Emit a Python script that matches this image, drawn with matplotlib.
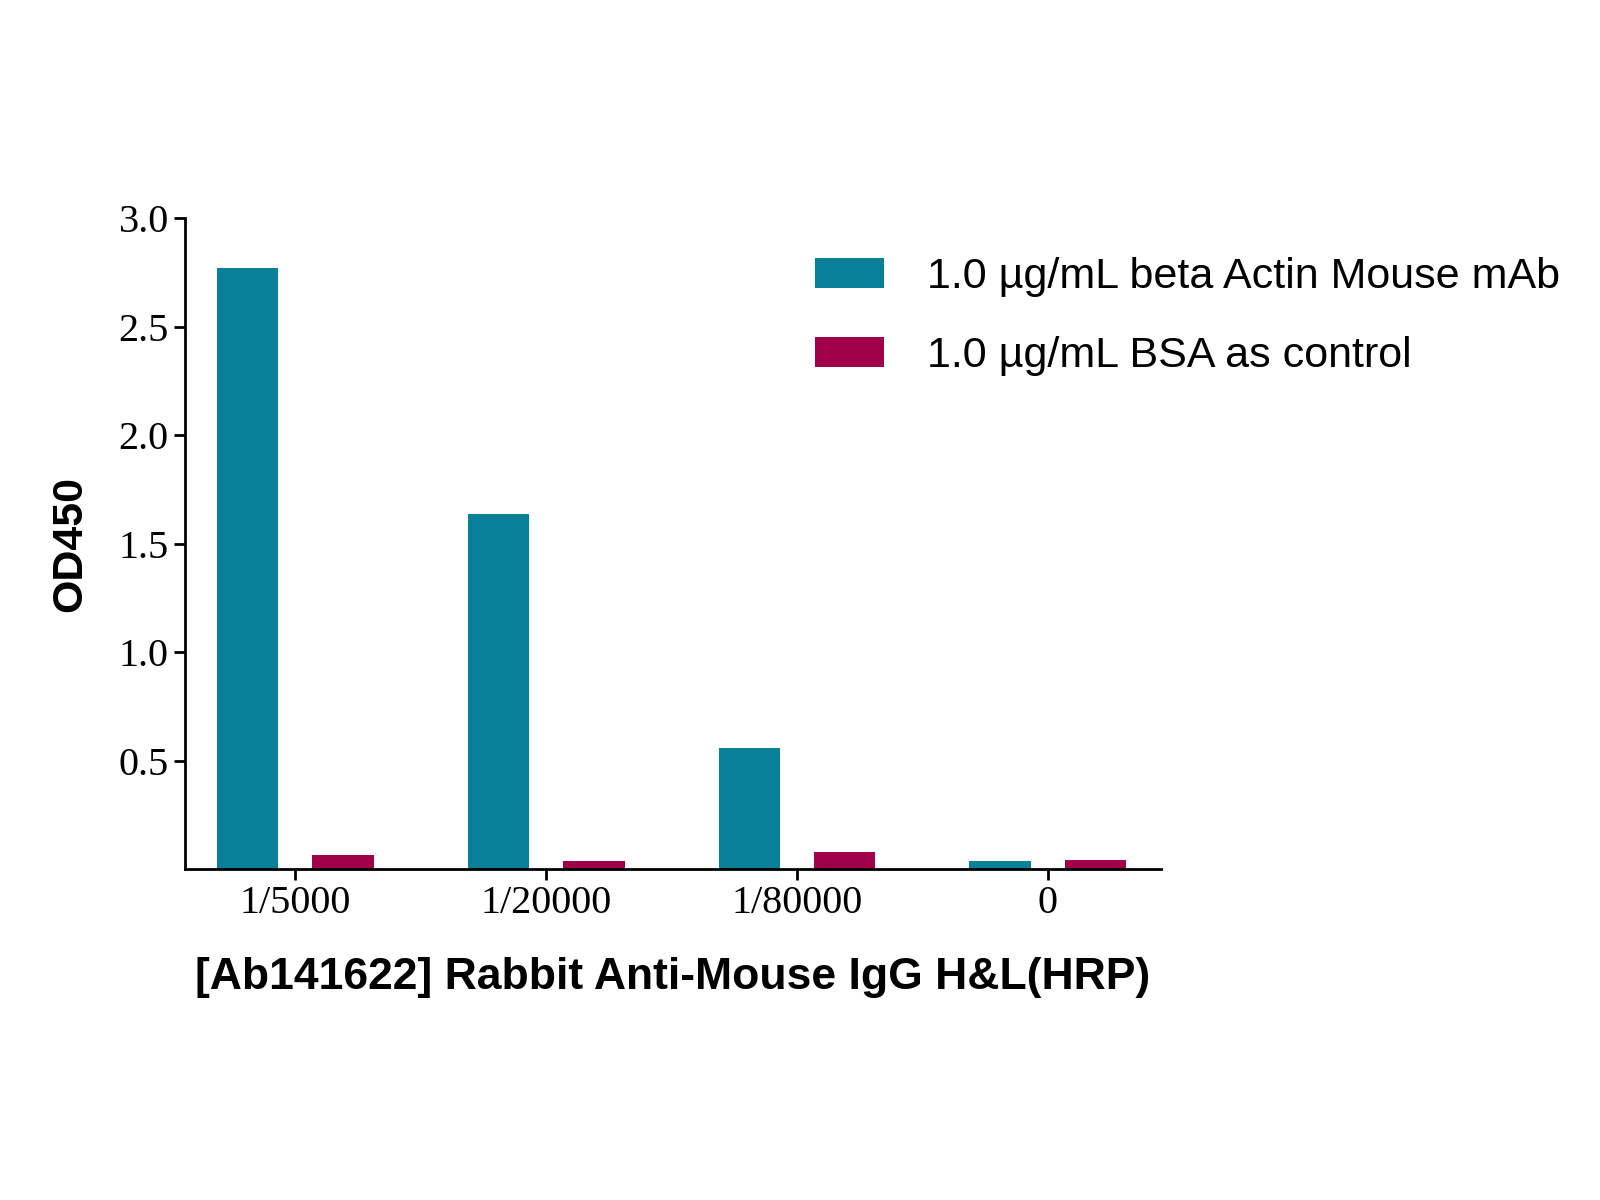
import numpy as np
import matplotlib
matplotlib.use("Agg")
import matplotlib.pyplot as plt

categories = ["1/5000", "1/20000", "1/80000", "0"]
actin_od = [2.77, 1.64, 0.56, 0.04]
bsa_od = [0.065, 0.04, 0.08, 0.045]
series_labels = ["1.0 µg/mL beta Actin Mouse mAb", "1.0 µg/mL BSA as control"]

fig = plt.figure(figsize=(16, 12), dpi=100)
ax = fig.add_axes([0.1155, 0.2755, 0.610, 0.5425])

x = np.arange(len(categories))
ax.bar(x - 0.19, actin_od, width=0.245, color="#0a7f98", label=series_labels[0])
ax.bar(x + 0.19, bsa_od, width=0.245, color="#a0004a", label=series_labels[1])

ax.set_xlim(-0.44, 3.45)
ax.set_ylim(0, 3.0)
ax.set_yticks([0.5, 1.0, 1.5, 2.0, 2.5, 3.0])
ax.set_yticklabels(["0.5", "1.0", "1.5", "2.0", "2.5", "3.0"], family="Liberation Serif", fontsize=29)
ax.set_xticks(x)
ax.set_xticklabels(categories, family="Liberation Serif", fontsize=29)
ax.tick_params(width=2, length=8)
for s in ["top", "right"]:
    ax.spines[s].set_visible(False)
for s in ["left", "bottom"]:
    ax.spines[s].set_linewidth(2)

ax.set_ylabel("OD450", family="Liberation Sans", fontweight="bold", fontsize=31, labelpad=20)
ax.set_xlabel("[Ab141622] Rabbit Anti-Mouse IgG H&L(HRP)", family="Liberation Sans",
              fontweight="bold", fontsize=32, labelpad=25)

fig.legend(loc="upper left", bbox_to_anchor=(0.485, 0.818), frameon=False,
           prop={"family": "Liberation Sans", "size": 31}, handlelength=1.6,
           handleheight=0.7, labelspacing=0.9, handletextpad=1.0)

fig.savefig("out.png", dpi=100)
